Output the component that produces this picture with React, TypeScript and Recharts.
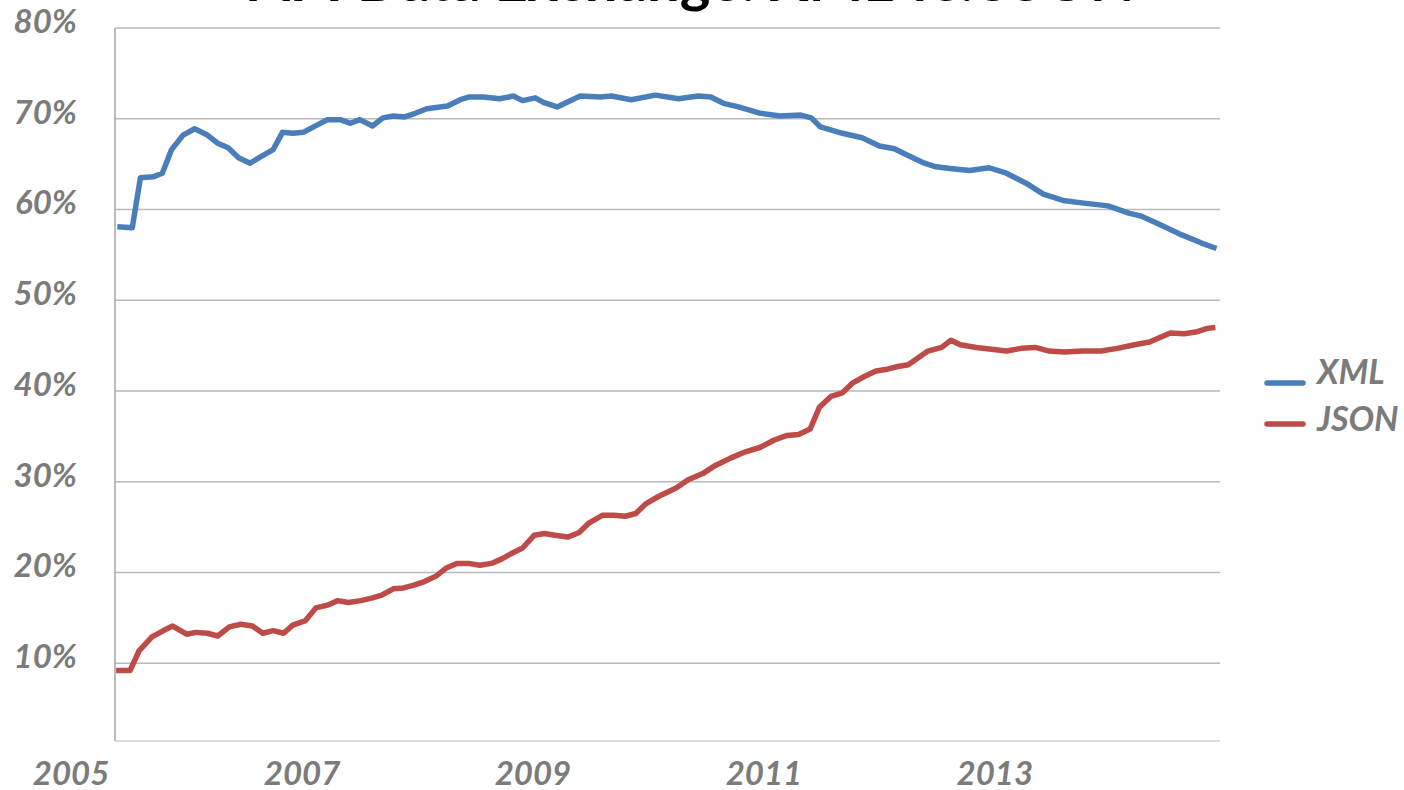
import { LineChart, Line, XAxis, YAxis, CartesianGrid } from 'recharts';

// decimal year, share in %
const xmlYears = [
  2005.4, 2005.53, 2005.6, 2005.71, 2005.79, 2005.87, 2005.97, 2006.07, 2006.18, 2006.27,
  2006.36, 2006.45, 2006.55, 2006.64, 2006.75, 2006.83, 2006.92, 2007.01, 2007.1, 2007.22,
  2007.33, 2007.42, 2007.5, 2007.61, 2007.7, 2007.79, 2007.89, 2007.98, 2008.08, 2008.26,
  2008.37, 2008.45, 2008.57, 2008.71, 2008.83, 2008.91, 2009.02, 2009.09, 2009.21, 2009.29,
  2009.41, 2009.58, 2009.68, 2009.85, 2010.06, 2010.26, 2010.43, 2010.54, 2010.65, 2010.78,
  2010.97, 2011.14, 2011.32, 2011.41, 2011.49, 2011.68, 2011.85, 2012.0, 2012.13, 2012.24,
  2012.39, 2012.49, 2012.63, 2012.78, 2012.95, 2013.1, 2013.27, 2013.42, 2013.59, 2013.77,
  2013.98, 2014.16, 2014.26, 2014.4, 2014.62, 2014.79, 2014.92,
];
const xmlShare = [
  58.1, 58.0, 63.5, 63.6, 64.0, 66.6, 68.2, 68.9, 68.2, 67.3,
  66.8, 65.7, 65.1, 65.8, 66.6, 68.5, 68.4, 68.5, 69.1, 69.9,
  69.9, 69.5, 69.9, 69.2, 70.1, 70.3, 70.2, 70.6, 71.1, 71.4,
  72.1, 72.4, 72.4, 72.2, 72.5, 72.0, 72.3, 71.8, 71.3, 71.8,
  72.5, 72.4, 72.5, 72.1, 72.6, 72.2, 72.5, 72.4, 71.7, 71.3,
  70.6, 70.3, 70.4, 70.1, 69.1, 68.4, 67.9, 67.0, 66.7, 66.0,
  65.1, 64.7, 64.5, 64.3, 64.6, 64.0, 62.9, 61.7, 61.0, 60.7,
  60.4, 59.6, 59.3, 58.5, 57.2, 56.3, 55.7,
];

const jsonYears = [
  2005.39, 2005.51, 2005.59, 2005.7, 2005.8, 2005.88, 2006.0, 2006.08, 2006.18, 2006.27,
  2006.37, 2006.47, 2006.57, 2006.66, 2006.75, 2006.84, 2006.92, 2007.03, 2007.12, 2007.22,
  2007.31, 2007.4, 2007.51, 2007.61, 2007.69, 2007.79, 2007.88, 2007.97, 2008.06, 2008.16,
  2008.25, 2008.34, 2008.44, 2008.54, 2008.64, 2008.73, 2008.83, 2008.91, 2009.01, 2009.1,
  2009.19, 2009.3, 2009.4, 2009.48, 2009.6, 2009.7, 2009.8, 2009.89, 2009.98, 2010.09,
  2010.24, 2010.34, 2010.47, 2010.58, 2010.71, 2010.84, 2010.97, 2011.09, 2011.2, 2011.3,
  2011.4, 2011.48, 2011.58, 2011.68, 2011.77, 2011.87, 2011.97, 2012.07, 2012.16, 2012.25,
  2012.34, 2012.42, 2012.54, 2012.62, 2012.7, 2012.84, 2012.97, 2013.1, 2013.23, 2013.35,
  2013.47, 2013.6, 2013.76, 2013.92, 2014.06, 2014.21, 2014.34, 2014.45, 2014.52, 2014.64,
  2014.74, 2014.84, 2014.91,
];
const jsonShare = [
  9.2, 9.2, 11.4, 12.9, 13.6, 14.1, 13.2, 13.4, 13.3, 13.0,
  14.0, 14.3, 14.1, 13.3, 13.6, 13.3, 14.2, 14.7, 16.1, 16.4,
  16.9, 16.7, 16.9, 17.2, 17.5, 18.2, 18.3, 18.6, 19.0, 19.6,
  20.5, 21.0, 21.0, 20.8, 21.0, 21.5, 22.2, 22.7, 24.1, 24.3,
  24.1, 23.9, 24.4, 25.4, 26.3, 26.3, 26.2, 26.5, 27.6, 28.4,
  29.3, 30.2, 30.9, 31.8, 32.6, 33.3, 33.8, 34.6, 35.1, 35.2,
  35.8, 38.2, 39.4, 39.8, 40.9, 41.6, 42.2, 42.4, 42.7, 42.9,
  43.7, 44.4, 44.8, 45.6, 45.1, 44.8, 44.6, 44.4, 44.7, 44.8,
  44.4, 44.3, 44.4, 44.4, 44.7, 45.1, 45.4, 46.0, 46.4, 46.3,
  46.5, 46.9, 47.0,
];

const yearTicks = [2005, 2007, 2009, 2011, 2013];
const shareTicks = [10, 20, 30, 40, 50, 60, 70, 80];

const series = [
  { name: 'XML', color: '#4a7ebb', data: xmlYears.map((t, i) => ({ t, v: xmlShare[i] })) },
  { name: 'JSON', color: '#be4b48', data: jsonYears.map((t, i) => ({ t, v: jsonShare[i] })) },
];

const labelFont = {
  fill: '#7b7b7b',
  fontSize: 33,
  fontWeight: 700,
  fontStyle: 'italic',
  fontFamily: 'Lato, "Open Sans", sans-serif',
};

function ShareTick({ x, y, payload }: any) {
  return (
    <text x={x} y={y + 5} textAnchor="end" {...labelFont}>
      {payload.value}%
    </text>
  );
}

function YearTick({ x, y, payload }: any) {
  return (
    <text x={x} y={y + 44} textAnchor="middle" {...labelFont}>
      {payload.value}
    </text>
  );
}

export default function App() {
  return (
    <div style={{ position: 'absolute', left: 0, top: 0, width: 1404, height: 790, background: '#fff' }}>
      {/* title sits mostly above the top edge, as in the source image */}
      <svg width={1404} height={20} style={{ position: 'absolute', left: 0, top: 0 }}>
        <text
          x={692}
          y={1}
          textAnchor="middle"
          fontSize={58}
          fontWeight={700}
          fontFamily='Lato, "Open Sans", sans-serif'
          fill="#000"
        >
          API Data Exchange: XML vs. JSON
        </text>
      </svg>

      <LineChart width={1404} height={790} margin={{ top: 28, right: 184, bottom: 0, left: 0 }}>
        <CartesianGrid vertical={false} stroke="#b9b9b9" strokeWidth={1.4} />
        <XAxis
          type="number"
          dataKey="t"
          domain={[2005.38, 2014.95]}
          ticks={yearTicks}
          allowDataOverflow
          interval={0}
          height={49}
          tickSize={0}
          tickMargin={0}
          tickLine={false}
          axisLine={{ stroke: '#e2e2e2', strokeWidth: 1.5 }}
          tick={<YearTick />}
        />
        <YAxis
          type="number"
          domain={[1.43, 80]}
          ticks={shareTicks}
          allowDataOverflow
          interval={0}
          width={115}
          tickSize={0}
          tickMargin={38}
          tickLine={false}
          axisLine={{ stroke: '#a6a6a6', strokeWidth: 1.5 }}
          tick={<ShareTick />}
        />
        {series.map((s) => (
          <Line
            key={s.name}
            data={s.data}
            dataKey="v"
            name={s.name}
            type="linear"
            stroke={s.color}
            strokeWidth={5.5}
            strokeLinejoin="round"
            dot={false}
            activeDot={false}
            isAnimationActive={false}
          />
        ))}
      </LineChart>

      <svg width={150} height={100} style={{ position: 'absolute', left: 1254, top: 350 }}>
        {series.map((s, i) => (
          <g key={s.name}>
            <line
              x1={13}
              x2={49}
              y1={33 + i * 41}
              y2={33 + i * 41}
              stroke={s.color}
              strokeWidth={5.5}
              strokeLinecap="round"
            />
            <text x={63} y={34 + i * 47} {...labelFont} fontSize={34}>
              {s.name}
            </text>
          </g>
        ))}
      </svg>
    </div>
  );
}
